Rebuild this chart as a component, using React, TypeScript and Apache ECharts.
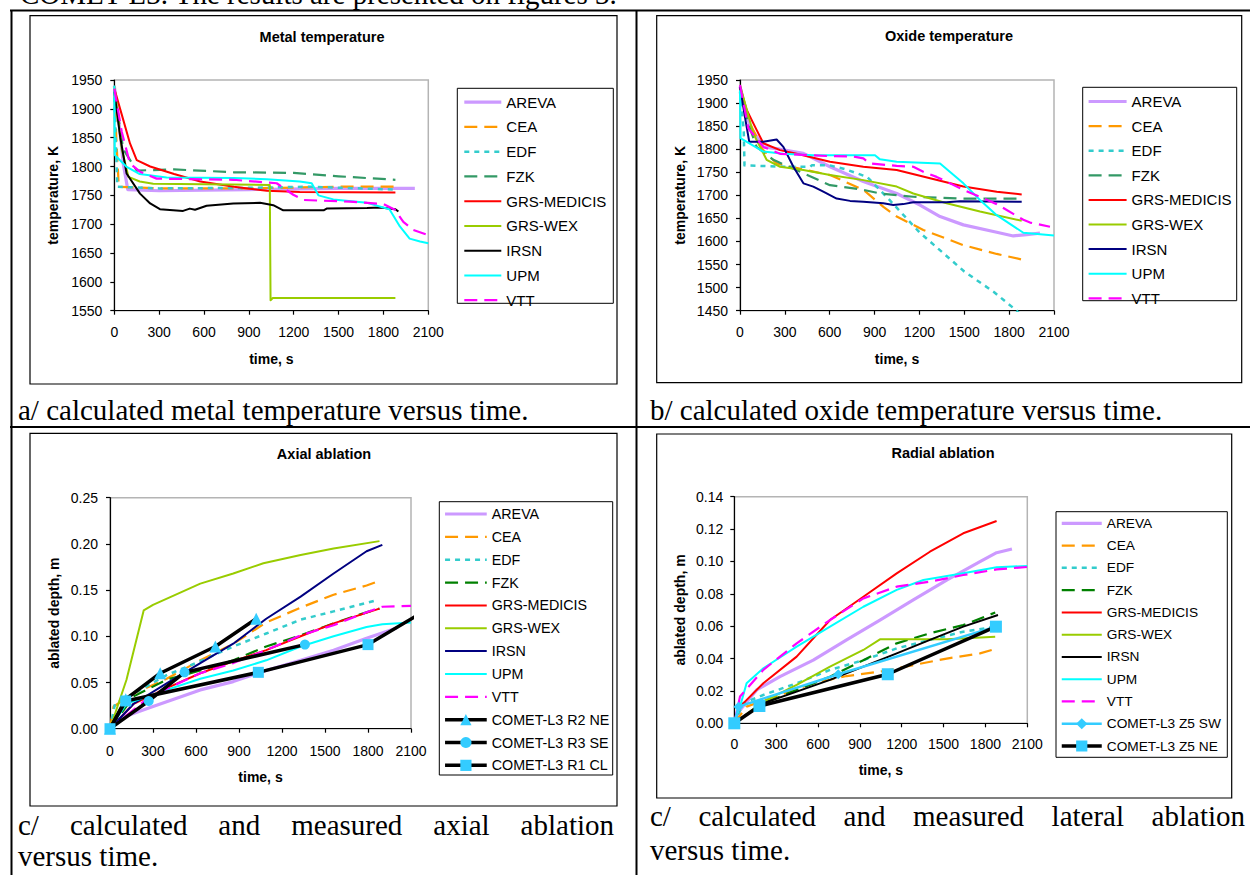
import { useEffect, useRef } from 'react';
import * as echarts from 'echarts';

type Pt = [number, number];

// ---------------- names, ticks, texts ----------------
const MODEL_NAMES = ['AREVA', 'CEA', 'EDF', 'FZK', 'GRS-MEDICIS', 'GRS-WEX', 'IRSN', 'UPM', 'VTT'];
const AXIAL_MEASURED_NAMES = ['COMET-L3 R2 NE', 'COMET-L3 R3 SE', 'COMET-L3 R1 CL'];
const RADIAL_MEASURED_NAMES = ['COMET-L3 Z5 SW', 'COMET-L3 Z5 NE'];

const TIME_TICKS = [0, 300, 600, 900, 1200, 1500, 1800, 2100];
const METAL_TICKS = [1550, 1600, 1650, 1700, 1750, 1800, 1850, 1900, 1950];
const OXIDE_TICKS = [1450, 1500, 1550, 1600, 1650, 1700, 1750, 1800, 1850, 1900, 1950];
const AXIAL_TICKS = [0, 0.05, 0.1, 0.15, 0.2, 0.25];
const RADIAL_TICKS = [0, 0.02, 0.04, 0.06, 0.08, 0.1, 0.12, 0.14];

const TITLES = ['Metal temperature', 'Oxide temperature', 'Axial ablation', 'Radial ablation'];
const X_NAME = 'time, s';
const Y_NAMES = ['temperature, K', 'temperature, K', 'ablated depth, m', 'ablated depth, m'];

const TOP_TEXT = 'COMET-L3. The results are presented on figures 3.';
const CAPTION_A = 'a/ calculated metal temperature versus time.';
const CAPTION_B = 'b/ calculated oxide temperature versus time.';
const CAPTION_C1 = ['c/ calculated and measured axial ablation', 'versus time.'];
const CAPTION_C2 = ['c/ calculated and measured lateral ablation', 'versus time.'];

// ---------------- metal temperature (K) ----------------
const metalAREVA: Pt[] = [[0, 1940], [30, 1880], [60, 1805], [90, 1760], [300, 1758], [900, 1760], [1500, 1762], [2010, 1762]];
const metalCEA: Pt[] = [[0, 1935], [15, 1840], [30, 1765], [300, 1762], [900, 1762], [1500, 1765], [1880, 1765]];
const metalEDF: Pt[] = [[0, 1920], [20, 1765], [300, 1762], [900, 1763], [1300, 1765], [1880, 1760]];
const metalFZK: Pt[] = [[0, 1930], [60, 1830], [150, 1793], [400, 1795], [800, 1790], [1200, 1789], [1500, 1783], [1880, 1777]];
const metalMEDICIS: Pt[] = [[0, 1935], [50, 1890], [105, 1840], [150, 1811], [240, 1800], [400, 1787], [575, 1774], [800, 1765], [1020, 1758], [1240, 1756], [1880, 1755]];
const metalWEX: Pt[] = [[0, 1940], [50, 1830], [95, 1782], [170, 1774], [260, 1770], [1040, 1768], [1045, 1568], [1060, 1572], [1880, 1572]];
const metalIRSN: Pt[] = [[0, 1930], [40, 1850], [82, 1788], [172, 1753], [240, 1736], [305, 1726], [460, 1723], [505, 1727], [540, 1725], [617, 1732], [796, 1736], [975, 1737], [1020, 1735], [1063, 1733], [1130, 1724], [1400, 1724], [1420, 1727], [1690, 1728], [1780, 1729], [1880, 1726], [1900, 1722]];
const metalUPM: Pt[] = [[0, 1940], [3, 1820], [80, 1800], [170, 1787], [350, 1781], [800, 1780], [1020, 1778], [1240, 1774], [1320, 1771], [1365, 1750], [1465, 1743], [1690, 1737], [1840, 1726], [1910, 1696], [1975, 1675], [2045, 1670], [2100, 1667]];
const metalVTT: Pt[] = [[0, 1935], [50, 1860], [105, 1805], [172, 1791], [283, 1779], [796, 1777], [1086, 1771], [1197, 1751], [1264, 1742], [1576, 1739], [1799, 1735], [1877, 1725], [1933, 1704], [2000, 1690], [2100, 1681]];

// ---------------- oxide temperature (K) ----------------
const oxideAREVA: Pt[] = [[0, 1936], [25, 1900], [67, 1849], [156, 1805], [268, 1800], [424, 1791], [602, 1762], [825, 1730], [1048, 1704], [1204, 1679], [1338, 1654], [1494, 1636], [1717, 1620], [1828, 1612], [1917, 1615], [2006, 1618]];
const oxideCEA: Pt[] = [[0, 1936], [30, 1890], [67, 1856], [150, 1800], [245, 1769], [468, 1753], [602, 1744], [825, 1712], [959, 1675], [1048, 1654], [1226, 1625], [1494, 1592], [1717, 1573], [1884, 1561]];
const oxideEDF: Pt[] = [[0, 1925], [25, 1840], [30, 1765], [300, 1762], [470, 1762], [480, 1765], [600, 1765], [700, 1757], [850, 1740], [1000, 1690], [1200, 1620], [1500, 1535], [1700, 1490], [1850, 1450], [1880, 1440]];
const oxideFZK: Pt[] = [[0, 1935], [50, 1860], [111, 1805], [223, 1777], [424, 1748], [602, 1722], [825, 1712], [936, 1704], [1159, 1697], [1494, 1693], [1884, 1693]];
const oxideMEDICIS: Pt[] = [[0, 1935], [45, 1885], [111, 1842], [156, 1813], [268, 1798], [379, 1790], [602, 1773], [825, 1762], [1048, 1755], [1271, 1737], [1494, 1719], [1717, 1708], [1884, 1702]];
const oxideWEX: Pt[] = [[0, 1939], [89, 1834], [178, 1777], [268, 1762], [424, 1755], [602, 1744], [825, 1733], [1048, 1719], [1159, 1704], [1382, 1683], [1605, 1665], [1884, 1645]];
const oxideIRSN: Pt[] = [[0, 1935], [33, 1870], [62, 1816], [156, 1816], [245, 1821], [290, 1805], [357, 1762], [424, 1726], [490, 1719], [557, 1708], [646, 1693], [736, 1688], [825, 1686], [959, 1683], [1025, 1679], [1092, 1681], [1159, 1685], [1380, 1685], [1471, 1687], [1884, 1686]];
const oxideUPM: Pt[] = [[0, 1928], [3, 1824], [156, 1795], [290, 1790], [490, 1787], [903, 1787], [936, 1778], [1048, 1773], [1338, 1769], [1494, 1726], [1605, 1690], [1717, 1657], [1895, 1619], [2100, 1613]];
const oxideVTT: Pt[] = [[0, 1939], [56, 1845], [156, 1805], [268, 1790], [602, 1785], [758, 1784], [825, 1780], [870, 1769], [1048, 1764], [1159, 1762], [1226, 1751], [1315, 1740], [1494, 1712], [1717, 1681], [1895, 1647], [1940, 1641], [2073, 1632]];

// ---------------- axial ablation (m) ----------------
const axialAREVA: Pt[] = [[0, 0], [100, 0.013], [280, 0.023], [630, 0.042], [860, 0.051], [1090, 0.063], [1330, 0.074], [1560, 0.085], [1790, 0.098], [2000, 0.109]];
const axialCEA: Pt[] = [[0, 0], [25, 0.024], [165, 0.038], [395, 0.054], [630, 0.074], [860, 0.092], [1090, 0.115], [1330, 0.131], [1560, 0.145], [1790, 0.155], [1880, 0.16]];
const axialEDF: Pt[] = [[0, 0], [35, 0.027], [165, 0.038], [395, 0.058], [630, 0.073], [860, 0.089], [1090, 0.103], [1330, 0.118], [1560, 0.127], [1860, 0.139]];
const axialFZK: Pt[] = [[0, 0], [165, 0.035], [395, 0.053], [630, 0.063], [860, 0.074], [1090, 0.089], [1330, 0.101], [1560, 0.114], [1810, 0.127], [1880, 0.13]];
const axialMEDICIS: Pt[] = [[0, 0], [165, 0.027], [395, 0.044], [630, 0.06], [860, 0.073], [1090, 0.085], [1330, 0.1], [1560, 0.114], [1880, 0.13]];
const axialWEX: Pt[] = [[0, 0], [115, 0.053], [235, 0.128], [300, 0.134], [630, 0.157], [860, 0.168], [1070, 0.179], [1330, 0.188], [1560, 0.195], [1880, 0.203]];
const axialIRSN: Pt[] = [[0, 0], [165, 0.027], [395, 0.049], [630, 0.071], [860, 0.092], [1090, 0.119], [1330, 0.143], [1560, 0.168], [1790, 0.192], [1900, 0.199]];
const axialUPM: Pt[] = [[0, 0], [115, 0.027], [395, 0.042], [630, 0.054], [860, 0.063], [1090, 0.074], [1330, 0.089], [1560, 0.1], [1790, 0.11], [1900, 0.113], [2100, 0.115]];
const axialVTT: Pt[] = [[0, 0], [280, 0.035], [630, 0.06], [860, 0.071], [1090, 0.085], [1330, 0.101], [1560, 0.112], [1790, 0.126], [1900, 0.132], [2100, 0.133]];
const axialR2NE: Pt[] = [[0, 0], [110, 0.032], [350, 0.06], [735, 0.089], [1020, 0.119]];
const axialR3SE: Pt[] = [[0, 0], [270, 0.03], [520, 0.061], [1360, 0.091]];
const axialR1CL: Pt[] = [[0, 0], [110, 0.03], [1035, 0.061], [1800, 0.091], [2130, 0.1215]];

// ---------------- radial ablation (m) ----------------
const radialAREVA: Pt[] = [[0, 0], [40, 0.008], [160, 0.0206], [327, 0.0288], [566, 0.039], [805, 0.0515], [1044, 0.0638], [1283, 0.0762], [1522, 0.0885], [1761, 0.0999], [1880, 0.1054], [1990, 0.1077]];
const radialCEA: Pt[] = [[0, 0], [88, 0.0103], [327, 0.0175], [566, 0.0247], [805, 0.0292], [1044, 0.0319], [1283, 0.036], [1522, 0.04], [1761, 0.0432], [1870, 0.0459]];
const radialEDF: Pt[] = [[0, 0], [64, 0.0124], [208, 0.0175], [447, 0.0247], [686, 0.033], [925, 0.039], [1164, 0.0463], [1402, 0.0515], [1641, 0.0566], [1870, 0.0597]];
const radialFZK: Pt[] = [[0, 0], [208, 0.0124], [447, 0.0206], [686, 0.0288], [925, 0.039], [1164, 0.0494], [1402, 0.0556], [1641, 0.0607], [1870, 0.0684]];
const radialMEDICIS: Pt[] = [[0, 0], [41, 0.0103], [208, 0.0247], [447, 0.0412], [686, 0.0638], [925, 0.0782], [1164, 0.0926], [1402, 0.106], [1641, 0.1174], [1880, 0.125]];
const radialWEX: Pt[] = [[0, 0], [208, 0.0134], [447, 0.0237], [686, 0.035], [925, 0.0453], [1044, 0.0519], [1283, 0.0519], [1522, 0.052], [1870, 0.0535]];
const radialIRSN: Pt[] = [[0, 0], [208, 0.0124], [447, 0.0196], [686, 0.0268], [925, 0.035], [1164, 0.0432], [1402, 0.0515], [1641, 0.0597], [1890, 0.0669]];
const radialUPM: Pt[] = [[0, 0], [41, 0.0103], [88, 0.0247], [208, 0.034], [447, 0.0474], [686, 0.0597], [925, 0.072], [1164, 0.0824], [1355, 0.0885], [1641, 0.0927], [1880, 0.0964], [2100, 0.0972]];
const radialVTT: Pt[] = [[0, 0], [41, 0.0165], [208, 0.033], [447, 0.0494], [686, 0.0638], [925, 0.0772], [1164, 0.0844], [1402, 0.0875], [1641, 0.0916], [1880, 0.0951], [2100, 0.0966]];
const radialZ5SW: Pt[] = [[0, 0], [30, 0.0103], [745, 0.0303], [1875, 0.0597]];
const radialZ5NE: Pt[] = [[0, 0], [180, 0.0107], [1100, 0.0303], [1875, 0.0597]];

// ---------------- styles ----------------
const SANS = "'Liberation Sans', Arial, sans-serif";
const SERIF = "'Liberation Serif', 'Times New Roman', serif";
const MARKER = '#33CCFF';

type St = { color: string; width: number; dash: any; symbol?: string; size?: number; mcolor?: string };
const BASE: Record<string, St> = {
  AREVA: { color: '#CC99FF', width: 3.2, dash: 'solid' },
  CEA: { color: '#FF9900', width: 2.2, dash: [13, 7] },
  EDF: { color: '#33CCCC', width: 2.5, dash: [5, 5] },
  FZK: { color: '#339966', width: 2.2, dash: [13, 7] },
  'GRS-MEDICIS': { color: '#FF0000', width: 2, dash: 'solid' },
  'GRS-WEX': { color: '#99CC00', width: 2, dash: 'solid' },
  IRSN: { color: '#000000', width: 2, dash: 'solid' },
  UPM: { color: '#00FFFF', width: 2, dash: 'solid' },
  VTT: { color: '#FF00FF', width: 2.2, dash: [13, 7] },
  'COMET-L3 R2 NE': { color: '#000000', width: 3.5, dash: 'solid', symbol: 'triangle', size: 12, mcolor: MARKER },
  'COMET-L3 R3 SE': { color: '#000000', width: 3.5, dash: 'solid', symbol: 'circle', size: 10, mcolor: MARKER },
  'COMET-L3 R1 CL': { color: '#000000', width: 3.5, dash: 'solid', symbol: 'rect', size: 11, mcolor: MARKER },
  'COMET-L3 Z5 SW': { color: '#33CCFF', width: 2.5, dash: 'solid', symbol: 'diamond', size: 10, mcolor: MARKER },
  'COMET-L3 Z5 NE': { color: '#000000', width: 3.5, dash: 'solid', symbol: 'rect', size: 12, mcolor: MARKER },
};

type ChartCfg = {
  title: string; titleX: number; titleY: number;
  grid: { left: number; top: number; width: number; height: number };
  yTicks: number[]; yDec: number; yName: string; yNameGap: number; yLabelMargin: number;
  xNameGap: number; xLabelMargin: number;
  legend: { left: number; top: number; itemWidth: number; spacing: number; fontSize: number };
  names: string[]; data: Pt[][]; colorOverride: Record<string, string>;
};

const CHARTS: ChartCfg[] = [
  {
    title: TITLES[0], titleX: 322, titleY: 37,
    grid: { left: 114.3, top: 80, width: 314, height: 230.7 },
    yTicks: METAL_TICKS, yDec: 0, yName: Y_NAMES[0], yNameGap: 54, yLabelMargin: 12,
    xNameGap: 41, xLabelMargin: 14,
    legend: { left: 462.7, top: 94.7, itemWidth: 37, spacing: 23.75, fontSize: 15 },
    names: MODEL_NAMES,
    data: [metalAREVA, metalCEA, metalEDF, metalFZK, metalMEDICIS, metalWEX, metalIRSN, metalUPM, metalVTT],
    colorOverride: {},
  },
  {
    title: TITLES[1], titleX: 949, titleY: 36,
    grid: { left: 740, top: 80, width: 314, height: 230.7 },
    yTicks: OXIDE_TICKS, yDec: 0, yName: Y_NAMES[1], yNameGap: 53, yLabelMargin: 12,
    xNameGap: 41, xLabelMargin: 14,
    legend: { left: 1087, top: 94, itemWidth: 38, spacing: 23.6, fontSize: 15 },
    names: MODEL_NAMES,
    data: [oxideAREVA, oxideCEA, oxideEDF, oxideFZK, oxideMEDICIS, oxideWEX, oxideIRSN, oxideUPM, oxideVTT],
    colorOverride: { IRSN: '#000080' },
  },
  {
    title: TITLES[2], titleX: 324, titleY: 454,
    grid: { left: 110, top: 497.7, width: 301, height: 231 },
    yTicks: AXIAL_TICKS, yDec: 2, yName: Y_NAMES[2], yNameGap: 49, yLabelMargin: 12,
    xNameGap: 41, xLabelMargin: 15,
    legend: { left: 443.3, top: 507, itemWidth: 41.7, spacing: 22.85, fontSize: 14.3 },
    names: [...MODEL_NAMES, ...AXIAL_MEASURED_NAMES],
    data: [axialAREVA, axialCEA, axialEDF, axialFZK, axialMEDICIS, axialWEX, axialIRSN, axialUPM, axialVTT, axialR2NE, axialR3SE, axialR1CL],
    colorOverride: { FZK: '#008000', IRSN: '#000080' },
  },
  {
    title: TITLES[3], titleX: 943, titleY: 453,
    grid: { left: 734.3, top: 496.7, width: 293, height: 226.6 },
    yTicks: RADIAL_TICKS, yDec: 2, yName: Y_NAMES[3], yNameGap: 47, yLabelMargin: 11,
    xNameGap: 40, xLabelMargin: 14,
    legend: { left: 1060, top: 516.3, itemWidth: 40, spacing: 22.27, fontSize: 13.7 },
    names: [...MODEL_NAMES, ...RADIAL_MEASURED_NAMES],
    data: [radialAREVA, radialCEA, radialEDF, radialFZK, radialMEDICIS, radialWEX, radialIRSN, radialUPM, radialVTT, radialZ5SW, radialZ5NE],
    colorOverride: { FZK: '#008000' },
  },
];

function chartOption(c: ChartCfg) {
  const axisFont = { fontFamily: SANS, fontSize: 14, color: '#000' };
  const nameFont = { fontFamily: SANS, fontSize: 14, fontWeight: 'bold', color: '#000' };
  const itemH = 14;
  const series = c.names.map((name, i) => {
    const s = BASE[name];
    const color = c.colorOverride[name] || s.color;
    return {
      type: 'line', name, data: c.data[i],
      symbol: s.symbol || 'none', symbolSize: s.size || 0, showSymbol: !!s.symbol,
      itemStyle: { color: s.mcolor || color, borderWidth: 0 },
      lineStyle: { color, width: s.width, type: s.dash, cap: 'butt', join: 'round' },
      clip: true, silent: true, emphasis: { disabled: true }, animation: false,
    };
  });
  const legendData = c.names.map((name) =>
    BASE[name].symbol ? { name } : { name, itemStyle: { opacity: 0, color: 'rgba(0,0,0,0)', borderWidth: 0 } });
  return {
    animation: false,
    textStyle: { fontFamily: SANS },
    grid: { ...c.grid, show: true, borderColor: '#B4B4B4', borderWidth: 1.5, containLabel: false },
    xAxis: {
      type: 'value', min: TIME_TICKS[0], max: TIME_TICKS[TIME_TICKS.length - 1], interval: TIME_TICKS[1] - TIME_TICKS[0],
      name: X_NAME, nameLocation: 'middle', nameGap: c.xNameGap, nameTextStyle: nameFont,
      axisLine: { show: true, onZero: false, lineStyle: { color: '#000', width: 1.2 } },
      axisTick: { show: true, length: 4, lineStyle: { color: '#000', width: 1.2 } },
      axisLabel: { ...axisFont, margin: c.xLabelMargin, showMinLabel: true, showMaxLabel: true, formatter: (v: number) => String(Math.round(v)) },
      splitLine: { show: false },
    },
    yAxis: {
      type: 'value', min: c.yTicks[0], max: c.yTicks[c.yTicks.length - 1], interval: c.yTicks[1] - c.yTicks[0],
      name: c.yName, nameLocation: 'middle', nameGap: c.yNameGap, nameTextStyle: nameFont,
      axisLine: { show: true, onZero: false, lineStyle: { color: '#000', width: 1.2 } },
      axisTick: { show: true, length: 4, lineStyle: { color: '#000', width: 1.2 } },
      axisLabel: { ...axisFont, margin: c.yLabelMargin, formatter: (v: number) => v.toFixed(c.yDec) },
      splitLine: { show: false },
    },
    legend: {
      orient: 'vertical', left: c.legend.left, top: c.legend.top, padding: 0,
      itemWidth: c.legend.itemWidth, itemHeight: itemH, itemGap: c.legend.spacing - itemH,
      selectedMode: false,
      lineStyle: { width: 'inherit' },
      textStyle: { fontFamily: SANS, fontSize: c.legend.fontSize, color: '#000', lineHeight: itemH },
      data: legendData,
    },
    graphic: [{
      type: 'text', x: c.titleX, y: c.titleY, silent: true,
      style: { text: c.title, fontFamily: SANS, fontSize: 14.5, fontWeight: 'bold', fill: '#000', textAlign: 'center', textVerticalAlign: 'middle' },
    }],
    series,
  };
}

// ---------------- page (table, frames, captions) ----------------
let measureCtx: CanvasRenderingContext2D | null = null;
function measure(text: string, font: string) {
  if (!measureCtx) measureCtx = document.createElement('canvas').getContext('2d');
  measureCtx!.font = font;
  return measureCtx!.measureText(text).width;
}

const CAP_SIZE = 29;
function serifText(text: string, x: number, baseline: number, size = CAP_SIZE) {
  return {
    type: 'text', x, y: baseline - 0.34 * size, silent: true,
    style: { text, fontFamily: SERIF, fontSize: size, fill: '#000', textAlign: 'left', textVerticalAlign: 'middle' },
  };
}
function justified(line: string, x0: number, x1: number, baseline: number) {
  const words = line.split(' ');
  const font = `${CAP_SIZE}px 'Liberation Serif'`;
  const ws = words.map((w) => measure(w, font));
  const total = ws.reduce((a, b) => a + b, 0);
  const gap = (x1 - x0 - total) / (words.length - 1);
  let x = x0;
  return words.map((w, i) => {
    const el = serifText(w, x, baseline);
    x += ws[i] + gap;
    return el;
  });
}

function pageOption() {
  const line = (x1: number, y1: number, x2: number, y2: number, w = 2) => ({
    type: 'line', silent: true, shape: { x1, y1, x2, y2 }, style: { stroke: '#000', lineWidth: w },
  });
  const box = (x: number, y: number, width: number, height: number, w = 1.2) => ({
    type: 'rect', silent: true, shape: { x, y, width, height }, style: { fill: 'none', stroke: '#000', lineWidth: w },
  });
  return {
    animation: false,
    graphic: [
      serifText(TOP_TEXT, 20, 4),
      line(10, 10.5, 1250, 10.5),
      line(11.5, 10, 11.5, 875),
      line(636.5, 10, 636.5, 875),
      line(10, 427, 1250, 427),
      box(30, 15.7, 587, 368.3),
      box(656.7, 15.7, 585, 367),
      box(30, 433.3, 587, 372.7),
      box(656.7, 434, 575, 364),
      box(457.3, 88.3, 156, 215, 1),
      box(1082.7, 87.3, 154, 213.4, 1),
      box(439.3, 501.7, 173.4, 273.3, 1),
      box(1056, 511.7, 171.3, 245.6, 1),
      serifText(CAPTION_A, 18, 420),
      serifText(CAPTION_B, 650, 420),
      ...justified(CAPTION_C1[0], 18, 614, 835),
      serifText(CAPTION_C1[1], 18, 866),
      ...justified(CAPTION_C2[0], 650, 1245, 826),
      serifText(CAPTION_C2[1], 650, 860),
    ],
  };
}

export default function App() {
  const bgRef = useRef<HTMLDivElement>(null);
  const r0 = useRef<HTMLDivElement>(null);
  const r1 = useRef<HTMLDivElement>(null);
  const r2 = useRef<HTMLDivElement>(null);
  const r3 = useRef<HTMLDivElement>(null);
  useEffect(() => {
    const inst: echarts.ECharts[] = [];
    const bg = echarts.init(bgRef.current!, null, { renderer: 'svg' });
    bg.setOption(pageOption());
    inst.push(bg);
    [r0, r1, r2, r3].forEach((r, i) => {
      const c = echarts.init(r.current!, null, { renderer: 'svg' });
      c.setOption(chartOption(CHARTS[i]));
      inst.push(c);
    });
    return () => inst.forEach((c) => c.dispose());
  }, []);
  const layer: React.CSSProperties = { position: 'absolute', left: 0, top: 0, width: 1250, height: 875 };
  return (
    <div>
      <div ref={bgRef} style={layer} />
      <div ref={r0} style={layer} />
      <div ref={r1} style={layer} />
      <div ref={r2} style={layer} />
      <div ref={r3} style={layer} />
    </div>
  );
}
